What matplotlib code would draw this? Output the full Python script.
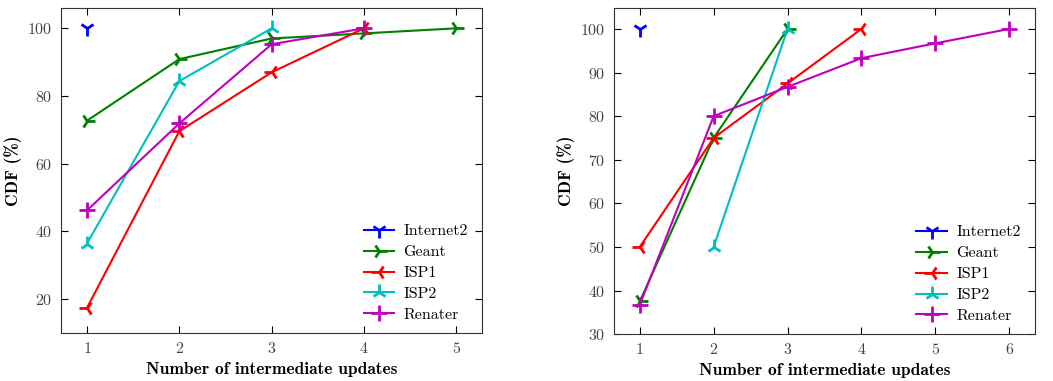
import numpy as np
import matplotlib
matplotlib.use("Agg")
import matplotlib.pyplot as plt

plt.rcParams['font.family'] = ['cmr10', 'DejaVu Serif']
plt.rcParams['mathtext.fontset'] = 'cm'
plt.rcParams['axes.formatter.use_mathtext'] = True

names = ["Internet2", "Geant", "ISP1", "ISP2", "Renater"]
colors = ["b", "g", "r", "c", "m"]
markers = ["1", "4", "3", "2", "+"]

# left panel
left_x = {
    "Internet2": [1],
    "Geant": [1, 2, 3, 4, 5],
    "ISP1": [1, 2, 3, 4],
    "ISP2": [1, 2, 3],
    "Renater": [1, 2, 3, 4],
}
left_y = {
    "Internet2": [100],
    "Geant": [72.7, 90.9, 97.0, 98.5, 100],
    "ISP1": [17.4, 69.6, 87.0, 100],
    "ISP2": [36.4, 84.4, 100],
    "Renater": [46.2, 71.9, 95.3, 100],
}

# right panel
right_x = {
    "Internet2": [1],
    "Geant": [1, 2, 3],
    "ISP1": [1, 2, 3, 4],
    "ISP2": [2, 3],
    "Renater": [1, 2, 3, 4, 5, 6],
}
right_y = {
    "Internet2": [100],
    "Geant": [37.5, 75, 100],
    "ISP1": [50, 75, 87.5, 100],
    "ISP2": [50, 100],
    "Renater": [36.7, 80, 86.7, 93.3, 96.7, 100],
}

fig = plt.figure(figsize=(10.53, 3.81), dpi=100)
ax1 = fig.add_axes([0.058, 0.126, 0.400, 0.853])
ax2 = fig.add_axes([0.583, 0.123, 0.400, 0.856])

def draw(ax, xs, ys):
    for n, c, m in zip(names, colors, markers):
        ax.plot(xs[n], ys[n], color=c, marker=m, markersize=11,
                markeredgewidth=2, linewidth=1.5, label=n)
    ax.set_xlabel("Number of intermediate updates", fontsize=12.5,
                  family=['cmb10', 'DejaVu Serif'])
    ax.set_ylabel("CDF (%)", fontsize=12.5, family=['cmb10', 'DejaVu Serif'])
    ax.tick_params(direction="in", right=True, top=True, length=5,
                   labelsize=11.5, labelcolor="#444444", pad=6)
    for s in ax.spines.values():
        s.set_color("#333333")
    ax.legend(loc="lower right", frameon=False, fontsize=11.5,
              handlelength=1.9, handletextpad=0.6, labelspacing=0.42,
              bbox_to_anchor=(1.0, -0.01))

draw(ax1, left_x, left_y)
ax1.set_xlim(0.72, 5.28)
ax1.set_ylim(10, 106)
ax1.set_xticks([1, 2, 3, 4, 5])
ax1.set_yticks([20, 40, 60, 80, 100])

draw(ax2, right_x, right_y)
ax2.set_xlim(0.65, 6.35)
ax2.set_ylim(30, 104.8)
ax2.set_xticks([1, 2, 3, 4, 5, 6])
ax2.set_yticks([30, 40, 50, 60, 70, 80, 90, 100])

fig.savefig("out.png", dpi=100)
